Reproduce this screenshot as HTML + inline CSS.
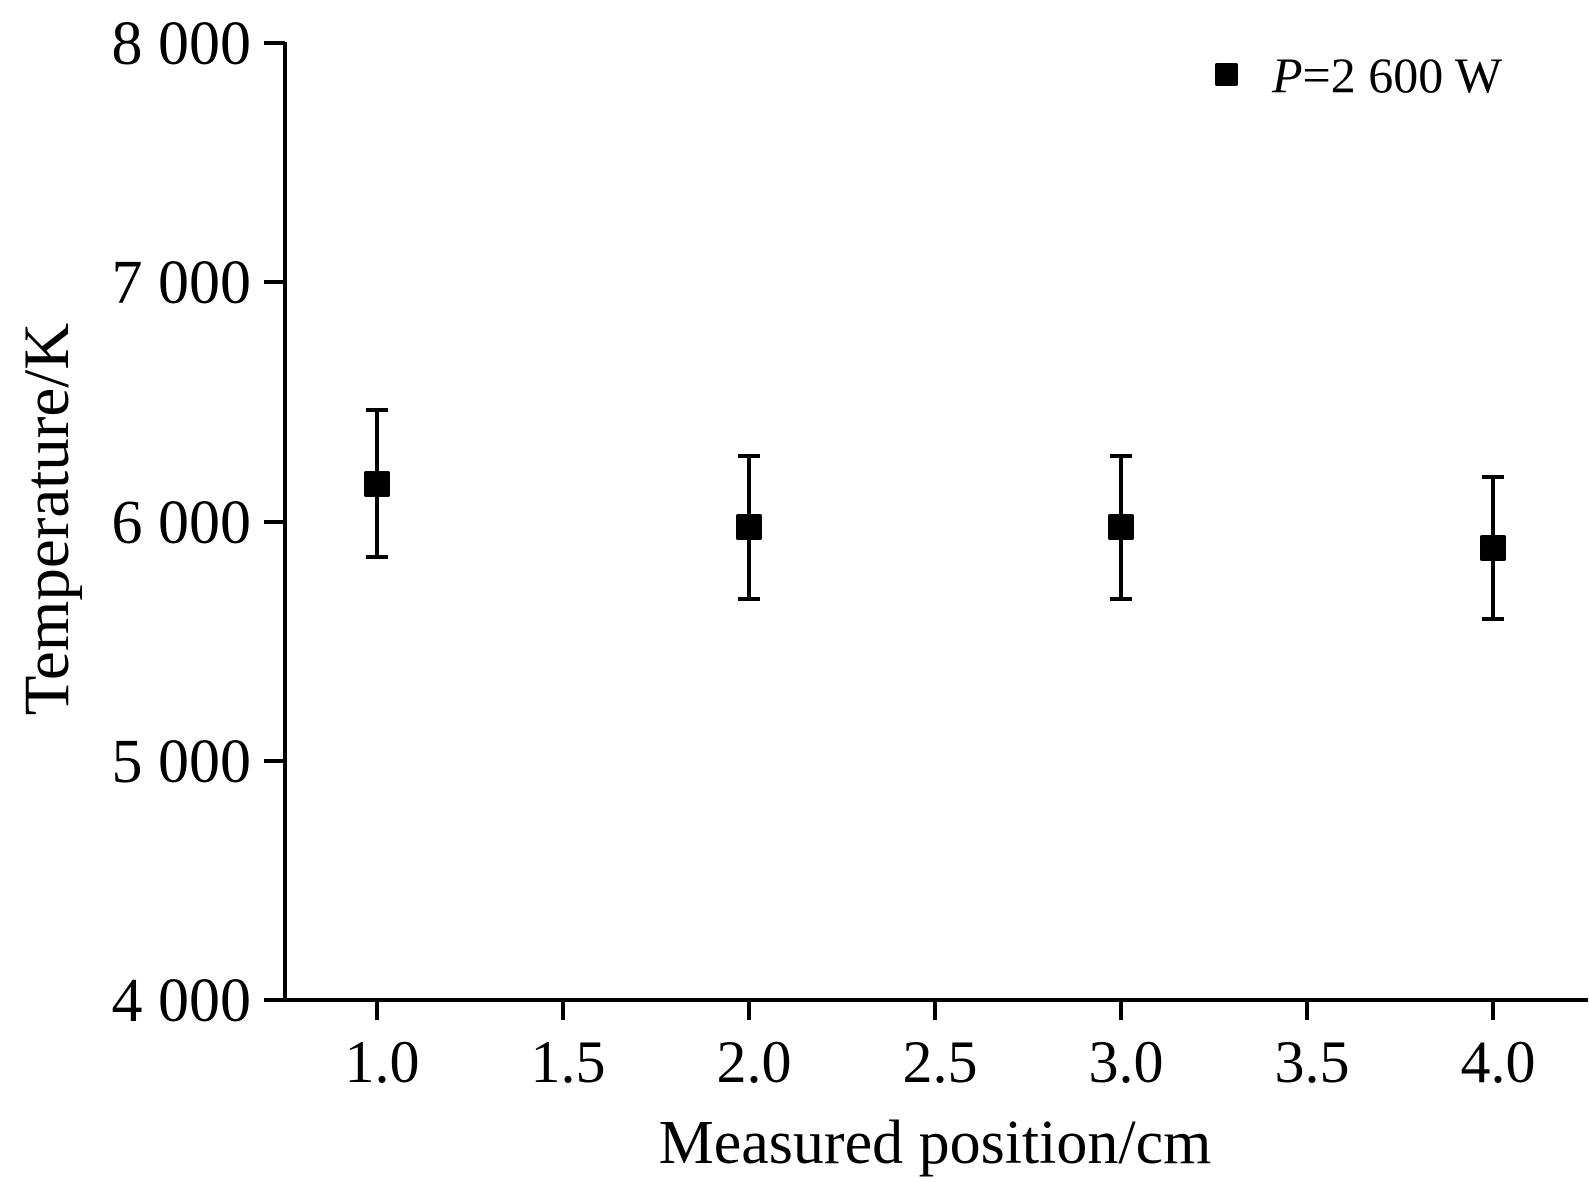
<!DOCTYPE html>
<html><head><style>body{margin:0;background:#fff}svg{display:block}</style></head><body>
<svg width="1589" height="1182" xmlns="http://www.w3.org/2000/svg" font-family="Liberation Serif, serif" fill="#000">
<g stroke="#000" stroke-width="4" fill="none">
<line x1="285" y1="42" x2="285" y2="1002"/>
<line x1="283" y1="1000" x2="1588" y2="1000"/>
<line x1="264" y1="43" x2="285" y2="43"/>
<line x1="264" y1="282" x2="285" y2="282"/>
<line x1="264" y1="522" x2="285" y2="522"/>
<line x1="264" y1="761" x2="285" y2="761"/>
<line x1="264" y1="1000" x2="285" y2="1000"/>
<line x1="377" y1="1000" x2="377" y2="1020"/>
<line x1="563" y1="1000" x2="563" y2="1020"/>
<line x1="749" y1="1000" x2="749" y2="1020"/>
<line x1="935" y1="1000" x2="935" y2="1020"/>
<line x1="1121" y1="1000" x2="1121" y2="1020"/>
<line x1="1307" y1="1000" x2="1307" y2="1020"/>
<line x1="1493" y1="1000" x2="1493" y2="1020"/>
<path d="M377 410V557M366 410H388M366 557H388"/>
<path d="M749 456V599M738 456H760M738 599H760"/>
<path d="M1121 456V599M1110 456H1132M1110 599H1132"/>
<path d="M1493 477V619M1482 477H1504M1482 619H1504"/>
</g>
<rect x="364" y="471" width="26" height="26" rx="2"/>
<rect x="736" y="514" width="26" height="26" rx="2"/>
<rect x="1108" y="514" width="26" height="26" rx="2"/>
<rect x="1480" y="535" width="26" height="26" rx="2"/>
<rect x="1215" y="63" width="23" height="23" rx="2"/>
<text x="1272" y="92" font-size="50"><tspan font-style="italic">P</tspan>=2 600 W</text>
<g font-size="62" text-anchor="end">
<text x="251" y="64">8 000</text>
<text x="251" y="303">7 000</text>
<text x="251" y="543">6 000</text>
<text x="251" y="782">5 000</text>
<text x="251" y="1021">4 000</text>
</g>
<g font-size="60" text-anchor="middle">
<text x="382" y="1082">1.0</text>
<text x="568" y="1082">1.5</text>
<text x="754" y="1082">2.0</text>
<text x="940" y="1082">2.5</text>
<text x="1126" y="1082">3.0</text>
<text x="1312" y="1082">3.5</text>
<text x="1498" y="1082">4.0</text>
<text x="935" y="1163" font-size="62">Measured position/cm</text>
<text transform="translate(68,519) rotate(-90)" font-size="65">Temperature/K</text>
</g>
</svg>
</body></html>
